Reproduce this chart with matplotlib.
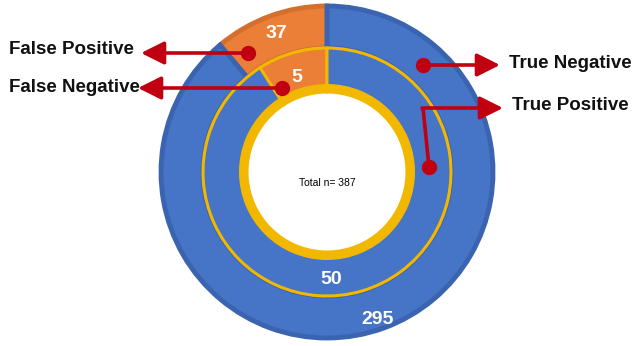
import numpy as np
import matplotlib
matplotlib.use("Agg")
import matplotlib.pyplot as plt
from matplotlib.patches import Wedge

# confusion-matrix counts
outer_labels = ["False Positive", "True Negative"]
outer_values = [37, 295]
inner_labels = ["False Negative", "True Positive"]
inner_values = [5, 50]
total_n = 387

BLUE = "#4674c6"
BLUE_DARK = "#3a63b0"
ORANGE = "#ec7f37"
ORANGE_DARK = "#d46f2c"
YELLOW = "#f2b800"
RED = "#c00010"

W, H = 641, 346
CX, CY = 327, 346 - 172   # ring centre in pixel coords (y up)

plt.rcParams["font.family"] = ["Liberation Sans", "DejaVu Sans"]

fig = plt.figure(figsize=(W / 100, H / 100), dpi=100)
ax = fig.add_axes([0, 0, 1, 1])

# outer ring: FP / TN
wo, _ = ax.pie(outer_values, radius=166, center=(CX, CY), startangle=90,
               colors=[ORANGE, BLUE],
               wedgeprops=dict(width=42, linewidth=3.5))
wo[0].set_edgecolor(ORANGE_DARK)
wo[1].set_edgecolor(BLUE_DARK)

# inner ring: FN / TP
wi, _ = ax.pie(inner_values, radius=124, center=(CX, CY), startangle=90,
               colors=[ORANGE, BLUE],
               wedgeprops=dict(width=44, edgecolor=YELLOW, linewidth=2.2))

# thick gold rim round the hole
ax.add_patch(Wedge((CX, CY), 88, 0, 360, width=8, facecolor=YELLOW,
                   edgecolor="none", zorder=3))

# value labels
val_pos = [(276, 34), (297, 77), (331, 279), (378, 320)]
val_txt = [outer_values[0], inner_values[0], inner_values[1], outer_values[1]]
for (px, py), v in zip(val_pos, val_txt):
    ax.text(px, H - py, str(v), color="white", fontsize=14, fontweight="bold",
            ha="center", va="center", zorder=5)

ax.text(CX, H - 183, f"Total n= {total_n}", fontsize=7.5, ha="center",
        va="center", color="black", zorder=5)

# callout arrows: (dot position, arrow tip, label x, label y)
arrows = [
    ((248, 53), (141, 53), outer_labels[0], 9, 50),
    ((282, 88), (138, 88), inner_labels[0], 9, 88),
    ((423, 65), (500, 65), outer_labels[1], 509, 64),
]
aprops = dict(arrowstyle="-|>,head_length=1.0,head_width=0.5", color=RED,
              lw=2.6, shrinkA=0, shrinkB=0, mutation_scale=14)
for (dx, dy), (tx, ty), lab, lx, ly in arrows:
    ax.annotate("", xy=(tx, H - ty), xytext=(dx, H - dy), arrowprops=aprops,
                zorder=6)
    ax.plot(dx, H - dy, "o", color=RED, markersize=10, zorder=7)
    ax.text(lx, H - ly, lab, fontsize=13.5, fontweight="bold", ha="left",
            va="center", color="#111111")

# true positive callout has an elbow
ax.plot([429, 423], [H - 167, H - 108], color=RED, lw=2.6, zorder=6,
        solid_capstyle="butt")
ax.annotate("", xy=(503, H - 108), xytext=(422, H - 108), arrowprops=aprops,
            zorder=6)
ax.plot(429, H - 167, "o", color=RED, markersize=10, zorder=7)
ax.text(512, H - 106, inner_labels[1], fontsize=13.5, fontweight="bold",
        ha="left", va="center", color="#111111")

ax.set_xlim(0, W)
ax.set_ylim(0, H)
ax.set_aspect("equal")
ax.axis("off")

fig.savefig("out.png", dpi=100, facecolor="white")
